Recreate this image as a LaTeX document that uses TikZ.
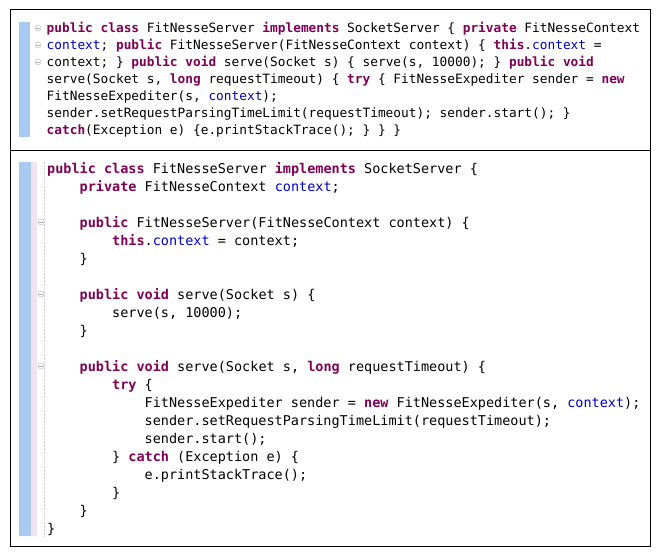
\documentclass[tikz,border=0pt]{standalone}
\usepackage{fontspec}
\newfontfamily\codefont{DejaVu Sans Mono}[WordSpace={1,0,0}]
\frenchspacing

\definecolor{kwcol}{RGB}{127,0,85}
\definecolor{fldcol}{RGB}{0,0,192}
\definecolor{barblue}{RGB}{168,202,240}
\definecolor{barpink}{RGB}{240,226,240}

\newcommand{\kw}[1]{\textbf{\color{kwcol}#1}}
\newcommand{\fld}[1]{\textcolor{fldcol}{#1}}

\begin{document}
\begin{tikzpicture}[x=1pt,y=-1pt]

        \useasboundingbox (0,0) rectangle (657,552);
        \fill[white] (0,0) rectangle (657,552);

        % panels
        \draw[line width=1pt] (10,9) rectangle (650,150);
        \draw[line width=1pt] (10,150) rectangle (650,546);

        % gutters
        \fill[barblue] (19,22) rectangle (30,137);
        \fill[barblue] (19,162) rectangle (31,536);
        \fill[barpink] (31,162) rectangle (37,536);
        \draw[gray!35, densely dotted] (44,162) -- (44,536);

        % fold markers
        \foreach \fx/\fy in {38/28, 38/45, 38/62, 41/222, 41/294, 41/366} {
          \draw[gray!60, fill=white] (\fx,\fy) circle (3pt);
          \draw[gray!60] (\fx-1.8,\fy) -- (\fx+1.8,\fy);
        }

        \begin{scope}[every node/.style={anchor=base west, inner sep=0pt,
            font=\codefont\fontsize{12.8}{17}\selectfont}]
          \node (t1) at (46.5,32.3)  {\kw{public} \kw{class} FitNesseServer \kw{implements} SocketServer \{ \kw{private} FitNesseContext};
          \node (t2) at (46.5,49.3)  {\fld{context}; \kw{public} FitNesseServer(FitNesseContext context) \{ \kw{this}.\fld{context} =};
          \node (t3) at (46.5,66.3)  {context; \} \kw{public} \kw{void} serve(Socket s) \{ serve(s, 10000); \} \kw{public} \kw{void}};
          \node (t4) at (46.5,83.3)  {serve(Socket s, \kw{long} requestTimeout) \{ \kw{try} \{ FitNesseExpediter sender = \kw{new}};
          \node (t5) at (46.5,100.3) {FitNesseExpediter(s, \fld{context});};
          \node (t6) at (46.5,117.3) {sender.setRequestParsingTimeLimit(requestTimeout); sender.start(); \}};
          \node (t7) at (46.5,134.3) {\kw{catch}(Exception e) \{e.printStackTrace(); \} \} \}};
        \end{scope}

        \begin{scope}[every node/.style={anchor=base west, inner sep=0pt,
            font=\codefont\fontsize{13.5}{18}\selectfont}]
          \node (b1)  at (47,173)    {\kw{public} \kw{class} FitNesseServer \kw{implements} SocketServer \{};
          \node (b2)  at (79.5,191)  {\kw{private} FitNesseContext \fld{context};};
          \node (b3)  at (79.5,227)  {\kw{public} FitNesseServer(FitNesseContext context) \{};
          \node (b4)  at (112,245)   {\kw{this}.\fld{context} = context;};
          \node (b5)  at (79.5,263)  {\}};
          \node (b6)  at (79.5,299)  {\kw{public} \kw{void} serve(Socket s) \{};
          \node (b7)  at (112,317)   {serve(s, 10000);};
          \node (b8)  at (79.5,335)  {\}};
          \node (b9)  at (79.5,371)  {\kw{public} \kw{void} serve(Socket s, \kw{long} requestTimeout) \{};
          \node (b10) at (112,389)   {\kw{try} \{};
          \node (b11) at (144.5,407) {FitNesseExpediter sender = \kw{new} FitNesseExpediter(s, \fld{context});};
          \node (b12) at (144.5,425) {sender.setRequestParsingTimeLimit(requestTimeout);};
          \node (b13) at (144.5,443) {sender.start();};
          \node (b14) at (112,461)   {\} \kw{catch} (Exception e) \{};
          \node (b15) at (144.5,479) {e.printStackTrace();};
          \node (b16) at (112,497)   {\}};
          \node (b17) at (79.5,515)  {\}};
          \node (b18) at (47,533)    {\}};
        \end{scope}

      \end{tikzpicture}
\end{document}
